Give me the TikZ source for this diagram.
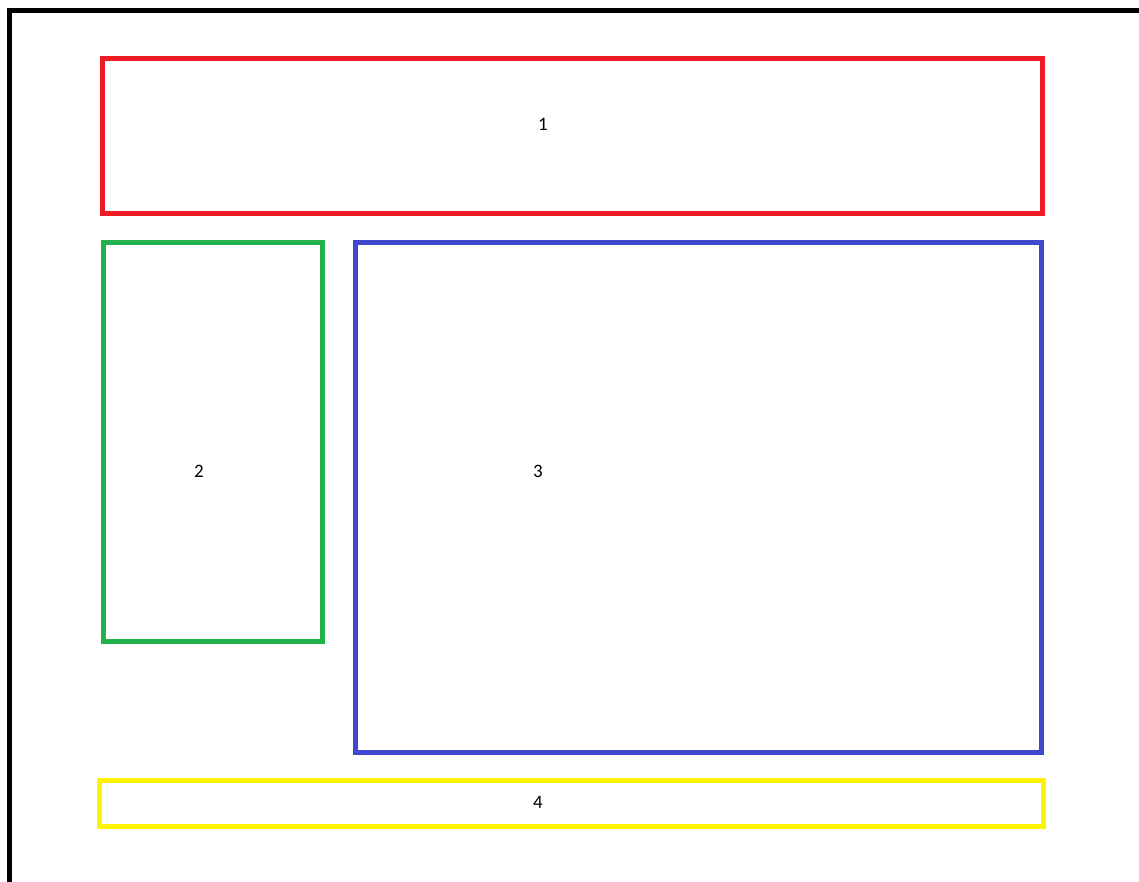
\documentclass[tikz,border=0pt]{standalone}
\usepackage{fontspec}
\setmainfont{Carlito}
\definecolor{paintred}{HTML}{ED1C24}
\definecolor{paintgreen}{HTML}{22B14C}
\definecolor{paintblue}{HTML}{3F48CC}
\definecolor{paintyellow}{HTML}{FFF200}
\begin{document}
\begin{tikzpicture}[
    x=1pt, y=-1pt,
    panel/.style={rectangle, draw=#1, line width=5pt, inner sep=0pt},
    lbl/.style={font=\fontsize{19}{22}\selectfont, text=black, inner sep=0pt}
]
    \useasboundingbox (0,0) rectangle (1139,882);
    % outer frame
    \coordinate (framebot) at (9.5,890);
    \coordinate (framecorner) at (9.5,11);
    \coordinate (frameright) at (1145,11);
    \draw[line width=5pt] (framebot) -- (framecorner) -- (frameright);
    % panels
    \foreach \name/\col/\cx/\cy/\w/\h in {header/paintred/572.5/136/940/155,
        sidebar/paintgreen/213/442/219/399,
        content/paintblue/698.5/497.5/686/510,
        footer/paintyellow/571.25/803.5/943.5/46} {
        \node[panel=\col, minimum width=\w, minimum height=\h] (\name) at (\cx,\cy) {};
    }
    % labels
    \foreach \name/\t/\x/\y in {header/1/543/124, sidebar/2/199/471,
        content/3/538/471, footer/4/538/802} {
        \node[lbl] (\name-lbl) at (\x,\y) {\t};
    }
\end{tikzpicture}
\end{document}
